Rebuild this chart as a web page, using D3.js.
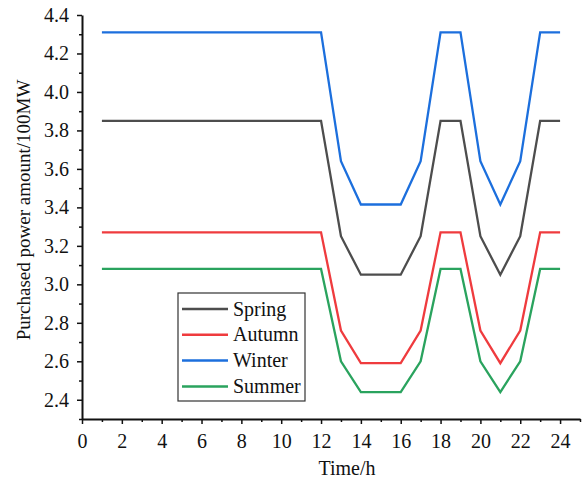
<!DOCTYPE html>
<html>
<head>
<meta charset="utf-8">
<script src="https://cdn.jsdelivr.net/npm/d3@7"></script>
<style>
  body { margin: 0; background: #fff; }
  svg text { font-family: "Liberation Serif", "Times New Roman", serif; fill: #111; }
</style>
</head>
<body>
<div id="chart"></div>
<script>
    // hours 1..24
    const hours = d3.range(1, 25);
    const spring = [3.85,3.85,3.85,3.85,3.85,3.85,3.85,3.85,3.85,3.85,3.85,3.85,3.25,3.05,3.05,3.05,3.25,3.85,3.85,3.25,3.05,3.25,3.85,3.85];
    const autumn = [3.27,3.27,3.27,3.27,3.27,3.27,3.27,3.27,3.27,3.27,3.27,3.27,2.76,2.59,2.59,2.59,2.76,3.27,3.27,2.76,2.59,2.76,3.27,3.27];
    const winter = [4.31,4.31,4.31,4.31,4.31,4.31,4.31,4.31,4.31,4.31,4.31,4.31,3.64,3.415,3.415,3.415,3.64,4.31,4.31,3.64,3.415,3.64,4.31,4.31];
    const summer = [3.08,3.08,3.08,3.08,3.08,3.08,3.08,3.08,3.08,3.08,3.08,3.08,2.60,2.44,2.44,2.44,2.60,3.08,3.08,2.60,2.44,2.60,3.08,3.08];
    const seriesNames = ["Spring", "Autumn", "Winter", "Summer"];
    const seriesColors = ["#4d4d4d", "#ef3b3e", "#1c6fdd", "#2aa35e"];
    const xTicks = d3.range(0, 25, 2);
    const yTicks = [2.4, 2.6, 2.8, 3.0, 3.2, 3.4, 3.6, 3.8, 4.0, 4.2, 4.4];

    const W = 582, H = 481;
    const margin = { top: 15, right: 2, bottom: 62, left: 82 };
    const width = W - margin.left - margin.right;
    const height = H - margin.top - margin.bottom;

    const svg = d3.select("#chart").append("svg")
        .attr("width", W)
        .attr("height", H)
        .append("g")
            .attr("transform", `translate(${margin.left},${margin.top})`);

    const x = d3.scaleLinear().domain([0, 25]).range([0, width]);
    const y = d3.scaleLinear().domain([2.3, 4.4]).range([height, 0]);

    const line = d3.line()
        .x((d, i) => x(hours[i]))
        .y(d => y(d));

    [spring, autumn, winter, summer].forEach((s, i) => {
        svg.append("path")
            .datum(s)
            .attr("fill", "none")
            .attr("stroke", seriesColors[i])
            .attr("stroke-width", 2.3)
            .attr("stroke-linejoin", "miter")
            .attr("d", line);
    });

    // minor ticks
    svg.append("g")
        .attr("transform", `translate(0,${height})`)
        .call(d3.axisBottom(x).tickValues(d3.range(1, 26, 2)).tickSize(3).tickFormat(""))
        .call(g => g.select(".domain").remove())
        .call(g => g.selectAll("line").attr("stroke", "#111").attr("stroke-width", 1.5));
    svg.append("g")
        .call(d3.axisLeft(y).tickValues(d3.range(2.3, 4.4, 0.2)).tickSize(3).tickFormat(""))
        .call(g => g.select(".domain").remove())
        .call(g => g.selectAll("line").attr("stroke", "#111").attr("stroke-width", 1.5));

    // x-axis
    svg.append("g")
        .attr("transform", `translate(0,${height})`)
        .call(d3.axisBottom(x).tickValues(xTicks).tickSize(5).tickSizeOuter(0).tickPadding(10).tickFormat(d3.format("d")))
        .call(g => g.select(".domain").attr("stroke", "#111").attr("stroke-width", 2))
        .call(g => g.selectAll("line").attr("stroke", "#111").attr("stroke-width", 1.5))
        .call(g => g.selectAll("text").style("font-size", "20px").attr("fill", "#111"));

    // y-axis
    svg.append("g")
        .call(d3.axisLeft(y).tickValues(yTicks).tickSize(5).tickSizeOuter(0).tickPadding(8).tickFormat(d3.format(".1f")))
        .call(g => g.select(".domain").attr("stroke", "#111").attr("stroke-width", 2))
        .call(g => g.selectAll("line").attr("stroke", "#111").attr("stroke-width", 1.5))
        .call(g => g.selectAll("text").style("font-size", "20px").attr("fill", "#111"));

    svg.append("text")
        .attr("x", x(13.3))
        .attr("y", height + 56)
        .attr("text-anchor", "middle")
        .style("font-size", "20px")
        .text("Time/h");

    svg.append("text")
        .attr("transform", `translate(${-52},${height / 2 - 7}) rotate(-90)`)
        .attr("text-anchor", "middle")
        .style("font-size", "19px")
        .text("Purchased power amount/100MW");

    // legend
    const legend = svg.append("g").attr("transform", `translate(${178 - margin.left},${293 - margin.top})`);
    legend.append("rect")
        .attr("width", 127)
        .attr("height", 108)
        .attr("fill", "#fff")
        .attr("stroke", "#333")
        .attr("stroke-width", 1.2);
    seriesNames.forEach((name, i) => {
        const yy = 16 + i * 25.8;
        legend.append("line")
            .attr("x1", 4).attr("x2", 50)
            .attr("y1", yy).attr("y2", yy)
            .attr("stroke", seriesColors[i])
            .attr("stroke-width", 2.5);
        legend.append("text")
            .attr("x", 55)
            .attr("y", yy + 6.5)
            .style("font-size", "20px")
            .text(name);
    });
</script>
</body>
</html>
